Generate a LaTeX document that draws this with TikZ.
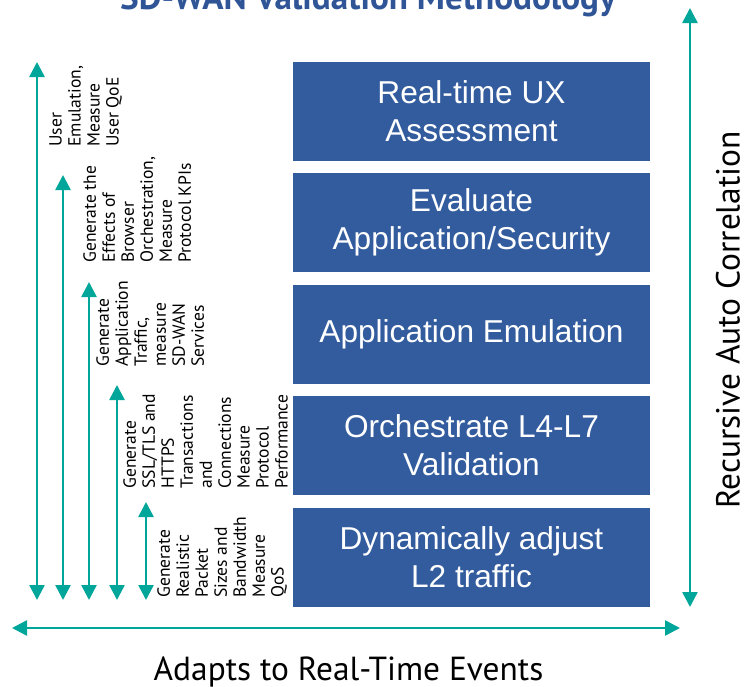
\documentclass[tikz,border=0pt]{standalone}
\usepackage{fontspec}
\setmainfont{Liberation Sans}
\newfontfamily\notefont{PT Sans}
\usetikzlibrary{positioning, arrows.meta}

\definecolor{stageblue}{RGB}{51,92,158}
\definecolor{titleblue}{RGB}{47,85,151}
\definecolor{flowteal}{RGB}{0,166,153}

\begin{document}
\begin{tikzpicture}[
        >={Triangle[width=0.3cm,length=0.3cm]},
        stage/.style={rectangle, fill=stageblue, text=white, minimum width=7.14cm, minimum height=1.98cm, align=center, font=\fontsize{18}{21.5}\selectfont},
        note/.style={rotate=90, anchor=north west, inner sep=0pt, align=left, font=\notefont\fontsize{10}{10.8}\selectfont},
        flow/.style={draw=flowteal, line width=1.5pt, <->},
    ]
        \useasboundingbox (0,0) rectangle (15,-13.74);

        % Title (cut at the top)
        \node[anchor=base, text=titleblue, font=\notefont\bfseries\fontsize{20}{24}\selectfont] (title) at (7.36,-0.2) {SD-WAN Validation Methodology};

        % Draw the stages
        \foreach \name / \txt in {1/{Real-time UX\\Assessment}, 2/{Evaluate\\Application/Security}, 3/{Application Emulation}, 4/{Orchestrate L4-L7\\Validation}, 5/{Dynamically adjust\\L2 traffic}}
            \node[stage] (S-\name) at (9.43,{-2.22-2.23*(\name-1)}) {\txt};

        % Draw the arrows on the left
        \foreach \name / \x / \y in {1/0.74/-1.24, 2/1.26/-3.5, 3/1.78/-5.64, 4/2.34/-7.7, 5/2.92/-10.04} {
            \coordinate (A-\name-top) at (\x,\y);
            \coordinate (A-\name-bot) at (\x,-12.0);
            \path[flow] (A-\name-bot) -- (A-\name-top);
        }

        % Notes next to the arrows
        \node[note] (N-1) at (0.98,-2.94) {User\\Emulation,\\Measure\\User QoE};
        \node[note] (N-2) at (1.66,-5.26) {Generate the\\Effects of\\Browser\\Orchestration,\\Measure\\Protocol KPIs};
        \node[note] (N-3) at (1.92,-7.34) {Generate\\Application\\Traffic,\\measure\\SD-WAN\\Services};
        \node[note] (N-4) at (2.46,-9.78) {Generate\\SSL/TLS and\\HTTPS\\Transactions\\and\\Connections\\Measure\\Protocol\\Performance};
        \node[note] (N-5) at (3.14,-11.96) {Generate\\Realistic\\Packet\\Sizes and\\Bandwidth\\Measure\\QoS};

        % Recursive correlation arrow
        \coordinate (R-top) at (13.8,-0.16);
        \coordinate (R-bot) at (13.8,-12.14);
        \path[flow] (R-bot) -- (R-top);
        \node[rotate=90, inner sep=0pt, font=\notefont\fontsize{19}{22}\selectfont] (R-label) at (14.56,-6.4) {Recursive Auto Correlation};

        % Real-time events arrow
        \coordinate (E-left) at (0.24,-12.56);
        \coordinate (E-right) at (13.6,-12.56);
        \path[flow] (E-left) -- (E-right);
        \node[anchor=base, font=\notefont\fontsize{19}{22}\selectfont] (E-label) at (6.97,-13.6) {Adapts to Real-Time Events};
    \end{tikzpicture}
\end{document}
